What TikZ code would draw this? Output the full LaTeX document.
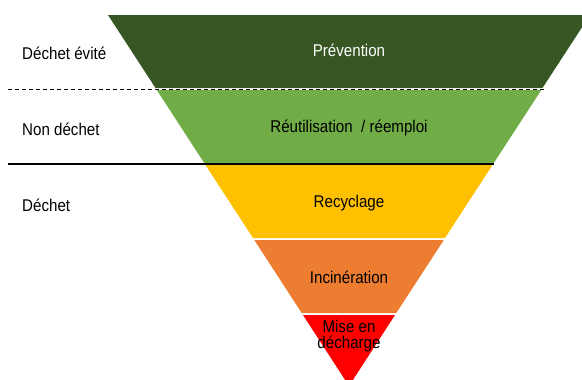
\documentclass[tikz,border=0pt]{standalone}
\usepackage{fontspec}
\setmainfont{Liberation Sans}
\definecolor{cPrev}{HTML}{375623}
\definecolor{cReut}{HTML}{70AD47}
\definecolor{cRecy}{HTML}{FFC000}
\definecolor{cInci}{HTML}{ED7D31}
\definecolor{cDech}{HTML}{FF0000}
\newcommand\narrowtxt[1]{\scalebox{0.89}[1]{#1}}
\begin{document}
\begin{tikzpicture}[x=1pt,y=-1pt,
  band/.style={draw=none},
  lbl/.style={font=\fontsize{17}{17}\selectfont, inner sep=0pt},
  side/.style={font=\fontsize{17}{17}\selectfont, inner sep=0pt, anchor=west}]
\useasboundingbox (0,0) rectangle (582,380);
\begin{scope}
\clip (0,0) rectangle (582,380);
\fill[band, cPrev] (108,15) -- (590,15) -- (542.5,88) -- (155.5,88) -- cycle;
\fill[band, cReut] (156.8,90) -- (541.3,90) -- (493.8,163) -- (204.2,163) -- cycle;
\fill[band, cRecy] (205.5,165) -- (492.5,165) -- (445,238) -- (253,238) -- cycle;
\fill[band, cInci] (254.3,240) -- (443.8,240) -- (396.3,313) -- (301.7,313) -- cycle;
\fill[band, cDech] (303,315) -- (395,315) -- (349,386) -- cycle;
\end{scope}
\coordinate (d1) at (8,89);
\coordinate (d2) at (544,89);
\coordinate (s1) at (8,164);
\coordinate (s2) at (494,164);
\draw[black, line width=1pt, dash pattern=on 4pt off 3pt] (d1) -- (d2);
\draw[black, line width=1.3pt] (s1) -- (s2);
\node[lbl, text=white] (prev) at (349,50) {\narrowtxt{Prévention}};
\node[lbl] (reut) at (349,128) {\narrowtxt{Réutilisation\ \ / réemploi}};
\node[lbl] (recy) at (349,203) {\narrowtxt{Recyclage}};
\node[lbl] (inci) at (349,277) {\narrowtxt{Incinération}};
\node[lbl] (dech1) at (349,326) {\narrowtxt{Mise en}};
\node[lbl] (dech2) at (349,344) {\narrowtxt{décharge}};
\node[side] (evite) at (22,53) {\narrowtxt{Déchet évité}};
\node[side] (non) at (22,129) {\narrowtxt{Non déchet}};
\node[side] (dechet) at (22,205) {\narrowtxt{Déchet}};
\end{tikzpicture}
\end{document}
